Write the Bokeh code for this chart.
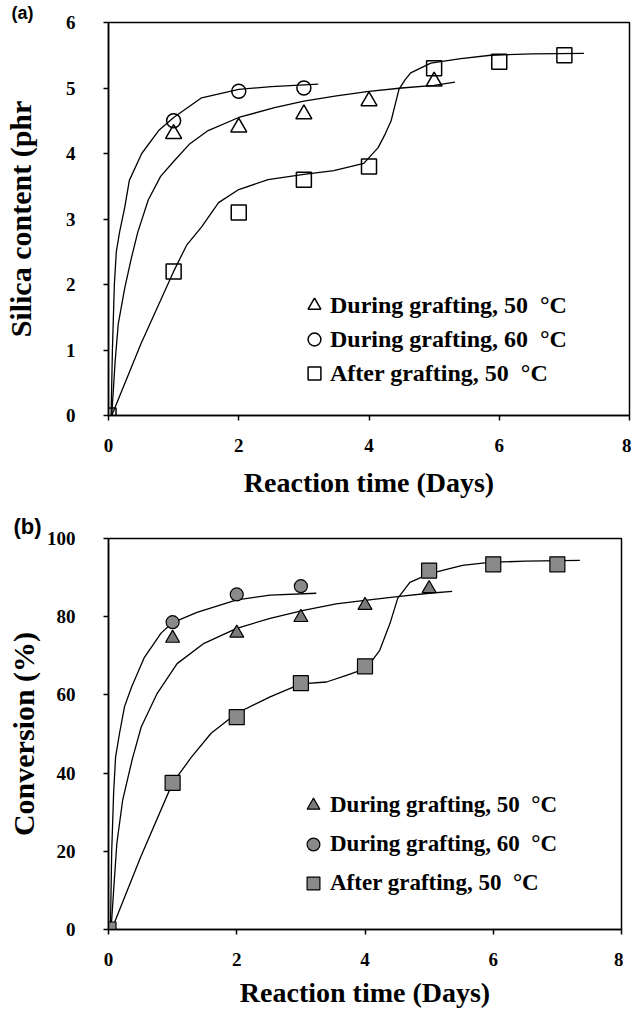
from bokeh.plotting import figure
from bokeh.models import Range1d, FixedTicker, Legend, LegendItem
from bokeh.layouts import column
from bokeh.embed import file_html
from bokeh.resources import INLINE

# ---------------- data ----------------
x_ticks = [0, 2, 4, 6, 8]
y_ticks_a = [0, 1, 2, 3, 4, 5, 6]
y_ticks_b = [0, 20, 40, 60, 80, 100]

legend_labels = ["During grafting, 50\u00a0\u00a0\u00b0C",
                 "During grafting, 60\u00a0\u00a0\u00b0C",
                 "After grafting, 50\u00a0\u00a0\u00b0C"]

# (a) silica content (phr)
a_tri_days = [1, 2, 3, 4, 5]
a_tri_val = [4.3, 4.4, 4.6, 4.8, 5.1]
a_cir_days = [1, 2, 3]
a_cir_val = [4.5, 4.95, 5.0]
a_sq_days = [0, 1, 2, 3, 4, 5, 6, 7]
a_sq_val = [0, 2.2, 3.1, 3.6, 3.8, 5.3, 5.4, 5.5]

# (a) fitted curves
a_tri_fit_x = [0.05, 0.1, 0.15, 0.25, 0.35, 0.45, 0.61, 0.8, 1.01, 1.25, 1.53, 2.0, 2.55, 3.0, 3.5, 4.0, 4.5, 5.0, 5.32]
a_tri_fit_y = [0.0, 0.8, 1.4, 1.95, 2.4, 2.8, 3.29, 3.65, 3.89, 4.15, 4.35, 4.55, 4.7, 4.8, 4.88, 4.95, 5.0, 5.04, 5.09]
a_cir_fit_x = [0.04, 0.06, 0.09, 0.12, 0.17, 0.25, 0.32, 0.51, 0.77, 1.0, 1.43, 2.0, 2.5, 3.22]
a_cir_fit_y = [0.0, 1.0, 2.0, 2.5, 2.8, 3.18, 3.59, 4.0, 4.35, 4.55, 4.85, 4.98, 5.02, 5.06]
a_sq_fit_x = [0.05, 0.5, 1.0, 1.2, 1.43, 1.69, 2.0, 2.45, 3.0, 3.46, 3.92, 4.14, 4.25, 4.34, 4.46, 4.55, 4.64, 4.95, 5.41, 5.87, 6.5, 7.3]
a_sq_fit_y = [0.0, 1.1, 2.2, 2.6, 2.88, 3.25, 3.45, 3.6, 3.68, 3.74, 3.85, 4.09, 4.3, 4.5, 4.98, 5.12, 5.23, 5.38, 5.45, 5.5, 5.52, 5.53]

# (b) conversion (%)
b_tri_days = [1, 2, 3, 4, 5]
b_tri_val = [74.5, 75.8, 79.8, 82.9, 87.2]
b_cir_days = [1, 2, 3]
b_cir_val = [78.6, 85.7, 87.8]
b_sq_days = [0, 1, 2, 3, 4, 5, 6, 7]
b_sq_val = [0, 37.5, 54.3, 63.0, 67.3, 91.8, 93.4, 93.4]

# (b) fitted curves
b_tri_fit_x = [0.04, 0.08, 0.13, 0.22, 0.37, 0.51, 0.76, 1.07, 1.49, 2.0, 2.52, 3.04, 3.55, 4.0, 4.54, 5.0, 5.36]
b_tri_fit_y = [0.0, 10, 22, 33, 43.5, 51.8, 60.4, 68, 73.2, 77, 79.6, 81.6, 83.3, 84.2, 85.2, 86, 86.5]
b_cir_fit_x = [0.03, 0.05, 0.08, 0.11, 0.17, 0.25, 0.36, 0.56, 0.82, 1.0, 1.38, 2.0, 2.52, 3.24]
b_cir_fit_y = [0.0, 20, 35, 44, 50, 57, 62, 69.6, 75.8, 78.5, 81.1, 84.3, 85.5, 86]
b_sq_fit_x = [0.05, 0.5, 1.0, 1.29, 1.6, 2.0, 2.52, 3.0, 3.4, 3.71, 4.02, 4.23, 4.39, 4.51, 4.7, 5.01, 5.52, 5.94, 6.5, 7.35]
b_sq_fit_y = [0.0, 18.5, 37.5, 44, 50.2, 55.3, 59.5, 62.8, 63.3, 65, 66.8, 71.4, 78.3, 84.7, 88.8, 91, 93.1, 93.9, 94.2, 94.4]

SERIF = "Liberation Serif"
SANS = "Liberation Sans"


def make_fig(width, height, left, right, top, bottom, yend, yticks, ylabel, ystand, xstand,
             tag, tag_offset, tag_size):
    p = figure(width=width, height=height, x_range=Range1d(0, 8), y_range=Range1d(0, yend),
               output_backend="svg", toolbar_location=None,
               min_border_left=left, min_border_right=right,
               min_border_top=top, min_border_bottom=bottom,
               background_fill_color="white", border_fill_color="white")
    p.title.text = tag
    p.title.align = "left"
    p.title.offset = tag_offset
    p.title.standoff = 0
    p.title.text_font = SANS
    p.title.text_font_style = "bold"
    p.title.text_font_size = tag_size
    p.title.text_color = "black"
    p.xgrid.visible = False
    p.ygrid.visible = False
    p.outline_line_color = "black"
    p.outline_line_width = 1.5
    p.xaxis.ticker = FixedTicker(ticks=x_ticks)
    p.yaxis.ticker = FixedTicker(ticks=yticks)
    p.xaxis.axis_label = "Reaction time (Days)"
    p.yaxis.axis_label = ylabel
    for ax in (p.xaxis[0], p.yaxis[0]):
        ax.axis_line_width = 1.5
        ax.axis_line_color = "black"
        ax.major_tick_line_width = 1.5
        ax.major_tick_line_color = "black"
        ax.major_tick_out = 5
        ax.major_tick_in = 0
        ax.minor_tick_out = 0
        ax.minor_tick_in = 0
        ax.major_label_text_font = SERIF
        ax.major_label_text_font_style = "bold"
        ax.major_label_text_font_size = "19px"
        ax.major_label_text_color = "black"
        ax.axis_label_text_font = SERIF
        ax.axis_label_text_font_style = "bold"
        ax.axis_label_text_color = "black"
    p.xaxis.major_label_standoff = 18
    p.yaxis.major_label_standoff = 28
    p.xaxis.axis_label_text_font_size = "28px"
    p.yaxis.axis_label_text_font_size = "30px"
    p.yaxis.axis_label_standoff = ystand
    p.xaxis.axis_label_standoff = xstand
    return p


def add_legend(p, renderers, loc, spacing, standoff, fsize):
    items = [LegendItem(label=lab, renderers=[r]) for lab, r in zip(legend_labels, renderers)]
    leg = Legend(items=items, location=loc, orientation="vertical",
                 label_text_font=SERIF, label_text_font_style="bold",
                 label_text_font_size=fsize, label_text_color="black",
                 border_line_color=None, background_fill_alpha=0,
                 padding=0, margin=0, spacing=spacing,
                 glyph_width=32, glyph_height=32, label_height=32, label_standoff=standoff)
    p.add_layout(leg)


# ---------------- panel (a) ----------------
pa = make_fig(631, 500, 107, 2, 21, 83, 6, y_ticks_a, "Silica content (phr", 26, 12,
              "(a)", -97, "18px")
for fx, fy in ((a_tri_fit_x, a_tri_fit_y), (a_cir_fit_x, a_cir_fit_y), (a_sq_fit_x, a_sq_fit_y)):
    pa.line(fx, fy, line_color="black", line_width=1.3)
ra1 = pa.scatter(a_tri_days, a_tri_val, marker="triangle", size=16, fill_color=None,
                 line_color="black", line_width=1.5)
ra2 = pa.scatter(a_cir_days, a_cir_val, marker="circle", size=14, fill_color=None,
                 line_color="black", line_width=1.5)
ra3 = pa.scatter(a_sq_days, a_sq_val, marker="square", size=15, fill_color=None,
                 line_color="black", line_width=1.5)
add_legend(pa, [ra1, ra2, ra3], (190, 26), 2, 0, "24px")

# ---------------- panel (b) ----------------
pb = make_fig(623, 510, 105, 2, 38, 80, 100, y_ticks_b, "Conversion (%)", 4, 8,
              "(b)", -95, "22px")
for fx, fy in ((b_tri_fit_x, b_tri_fit_y), (b_cir_fit_x, b_cir_fit_y), (b_sq_fit_x, b_sq_fit_y)):
    pb.line(fx, fy, line_color="black", line_width=1.3)
rb1 = pb.scatter(b_tri_days, b_tri_val, marker="triangle", size=14, fill_color="#7a7a7a",
                 line_color="black", line_width=1.2)
rb2 = pb.scatter(b_cir_days, b_cir_val, marker="circle", size=13, fill_color="#8a8a8a",
                 line_color="black", line_width=1.2)
rb3 = pb.scatter(b_sq_days, b_sq_val, marker="square", size=15, fill_color="#8a8a8a",
                 line_color="black", line_width=1.2)
add_legend(pb, [rb1, rb2, rb3], (189, 30), 7, 1, "23px")

layout = column(pa, pb)
open("out.html", "w").write(file_html(layout, INLINE))
